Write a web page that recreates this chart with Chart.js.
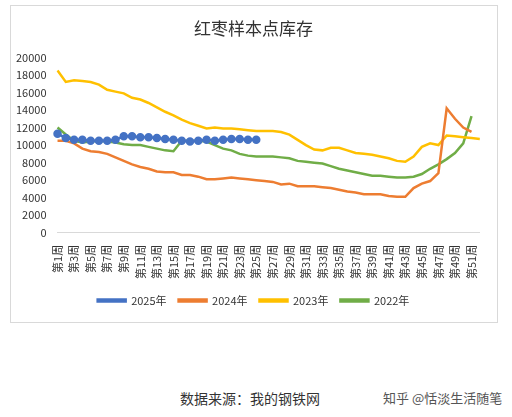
<!DOCTYPE html>
<html><head><meta charset="utf-8">
<script src="https://cdn.jsdelivr.net/npm/chart.js@4"></script>
<style>
body{margin:0;background:#fff;font-family:"Noto Sans CJK SC",sans-serif;}
#box{position:absolute;left:10px;top:5px;width:486px;height:316px;border:1px solid #d9d9d9;}
#foot{position:absolute;top:388px;left:0;width:512px;font-size:14px;color:#333;white-space:nowrap;}
</style></head><body>
<div id="box"><canvas id="c" width="486" height="316"></canvas></div>
<div id="foot"><span style="position:absolute;left:180px">数据来源：我的钢铁网</span><span style="position:absolute;left:383px;color:#555;font-size:13px">知乎 @恬淡生活随笔</span></div>
<script>
// Data
const weeks=Array.from({length:52},(_,i)=>'第'+(i+1)+'周');
const y2025=[11300,10800,10600,10600,10500,10500,10500,10600,11000,11000,10900,10900,10800,10700,10600,10500,10400,10500,10600,10500,10600,10700,10700,10600,10600];
const y2024=[10500,10500,10200,9600,9300,9200,9000,8600,8200,7800,7500,7300,7000,6900,6900,6600,6600,6400,6100,6100,6200,6300,6200,6100,6000,5900,5800,5500,5600,5300,5300,5300,5200,5100,4900,4700,4600,4400,4400,4400,4200,4100,4100,5100,5600,5900,6800,14200,13000,12000,11500];
const y2023=[18500,17200,17400,17300,17200,16900,16300,16100,15900,15400,15200,14800,14300,13800,13400,12900,12500,12200,11900,12000,11900,11900,11800,11700,11600,11600,11600,11500,11200,10600,10000,9500,9400,9700,9700,9400,9100,9000,8900,8700,8500,8200,8100,8700,9800,10200,10000,11100,11000,10900,10800,10700];
const y2022=[12000,11200,10500,10300,10400,10500,10400,10300,10100,10000,10000,9800,9600,9400,9300,10500,10500,10500,10400,10000,9600,9400,9000,8800,8700,8700,8700,8600,8500,8200,8100,8000,7900,7600,7300,7100,6900,6700,6500,6500,6400,6300,6300,6400,6700,7300,7800,8400,9100,10200,13300];
const yMax=20000, yStep=2000;

const font={family:'"Noto Sans CJK SC",sans-serif',size:11};
const line=(label,data,color,pts)=>({label,data,borderColor:color,backgroundColor:color,borderWidth:2.5,
  pointRadius:pts?3:0,pointHoverRadius:0,tension:0});
new Chart(document.getElementById('c'),{
  type:'line',
  data:{labels:weeks,datasets:[
    line('2025年',y2025,'#4472c4',true),
    line('2024年',y2024,'#ed7d31',false),
    line('2023年',y2023,'#ffc000',false),
    line('2022年',y2022,'#70ad47',false)
  ]},
  options:{responsive:false,animation:false,devicePixelRatio:1,
    layout:{padding:{left:2,right:3,top:0,bottom:6}},
    plugins:{
      title:{display:true,text:'红枣样本点库存',color:'#333',font:{family:font.family,size:17,weight:'normal'},padding:{top:12,bottom:19}},
      legend:{position:'bottom',labels:{color:'#333',font:font,boxWidth:28,boxHeight:2,padding:12}},
      tooltip:{enabled:false}
    },
    scales:{
      x:{grid:{display:false},border:{color:'#d9d9d9'},
        ticks:{color:'#333',font:font,autoSkip:false,maxRotation:90,minRotation:90,padding:4,
          callback:(v,i)=>i%2===0?weeks[i]:''}},
      y:{min:0,max:yMax,grid:{display:false},border:{display:false},
        ticks:{color:'#333',font:font,stepSize:yStep,callback:v=>String(v)}}
    }
  }
});
</script>
</body></html>
